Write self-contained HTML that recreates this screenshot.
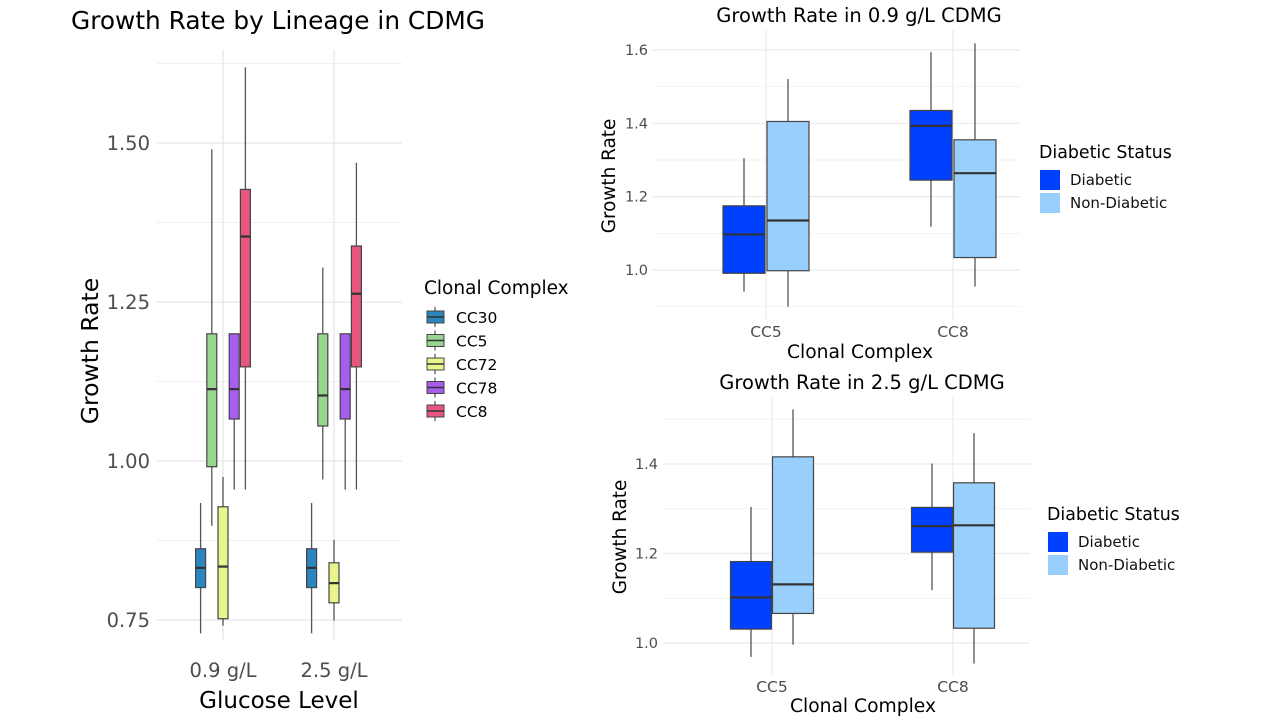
<!DOCTYPE html>
<html><head><meta charset="utf-8">
<style>
html,body{margin:0;padding:0;background:#fff;}
svg{display:block;font-family:"DejaVu Sans","Liberation Sans",sans-serif;}
</style></head>
<body>
<svg id="c" width="1280" height="720" viewBox="0 0 1280 720"></svg>
<script>
// ---------- Left chart data ----------
const glucoseLevels = ["0.9 g/L", "2.5 g/L"];
const lineages = ["CC30", "CC5", "CC72", "CC78", "CC8"];
const lineageColors = ["#2b86c0", "#98d68f", "#e9f58c", "#a95cf0", "#e5577f"];
// [low whisker, q1, median, q3, high whisker] per lineage per glucose level
const lineage09 = [[0.729,0.801,0.832,0.862,0.934],[0.898,0.991,1.113,1.200,1.490],[0.741,0.752,0.834,0.928,0.975],[0.955,1.066,1.113,1.200,1.200],[0.955,1.148,1.353,1.427,1.619]];
const lineage25 = [[0.729,0.801,0.832,0.862,0.934],[0.971,1.055,1.103,1.200,1.304],[0.749,0.777,0.808,0.840,0.876],[0.955,1.066,1.113,1.200,1.200],[0.955,1.148,1.263,1.338,1.469]];
const leftTicks = [0.75, 1.00, 1.25, 1.50];
const leftTickLabels = ["0.75", "1.00", "1.25", "1.50"];
// ---------- Right charts data ----------
const complexes = ["CC5", "CC8"];
const statuses = ["Diabetic", "Non-Diabetic"];
const statusColors = ["#0040ff", "#99cffc"];
const top09Diabetic = [[0.941,0.991,1.097,1.175,1.305],[1.118,1.245,1.393,1.435,1.594]];
const top09NonDiabetic = [[0.900,0.998,1.135,1.405,1.521],[0.955,1.034,1.264,1.355,1.618]];
const bot25Diabetic = [[0.969,1.031,1.102,1.182,1.304],[1.118,1.203,1.261,1.303,1.401]];
const bot25NonDiabetic = [[0.996,1.066,1.131,1.416,1.522],[0.954,1.033,1.263,1.358,1.469]];
const topTicks = [1.0, 1.2, 1.4, 1.6];
const topTickLabels = ["1.0", "1.2", "1.4", "1.6"];
const botTicks = [1.0, 1.2, 1.4];
const botTickLabels = ["1.0", "1.2", "1.4"];

const svg = document.getElementById('c');
const NS = "http://www.w3.org/2000/svg";
function mk(tag, attrs, parent){
  const e = document.createElementNS(NS, tag);
  for (const k in attrs) e.setAttribute(k, attrs[k]);
  (parent||svg).appendChild(e);
  return e;
}
function txt(s, x, y, size, opts, parent){
  const e = mk('text', Object.assign({x:x, y:y, 'font-size':size, fill:'#000'}, opts||{}), parent);
  e.textContent = s;
  return e;
}
function drawBox(g, cx, w, st, yf, fill, name){
  const b = mk('g', {}, g);
  
  
  const l1 = mk('line', {x1:cx, x2:cx, y1:yf(st[4]), y2:yf(st[3]), stroke:'#555', 'stroke-width':1.3}, b);
  
  
  const l2 = mk('line', {x1:cx, x2:cx, y1:yf(st[1]), y2:yf(st[0]), stroke:'#555', 'stroke-width':1.3}, b);
  
  
  const r = mk('rect', {x:cx-w/2, y:yf(st[3]), width:w, height:Math.max(0.5, yf(st[1])-yf(st[3])), fill:fill, stroke:'#444', 'stroke-width':1.2}, b);
  
  
  const m = mk('line', {x1:cx-w/2, x2:cx+w/2, y1:yf(st[2]), y2:yf(st[2]), stroke:'#333', 'stroke-width':2.2}, b);
  
  
}

// ================= LEFT CHART =================
(function(){
  const g = mk('g', {});
  
  
  const yf = v => 461 - (v - 1) * 636;
  const xCat = [223, 334];
  const x0 = 157, x1 = 402;
  [0.875, 1.125, 1.375, 1.625].forEach(v => {
    const l = mk('line', {x1:x0, x2:x1, y1:yf(v), y2:yf(v), stroke:'#f0f0f0', 'stroke-width':1}, g);
    
    
  });
  leftTicks.forEach((v, i) => {
    const l = mk('line', {x1:x0, x2:x1, y1:yf(v), y2:yf(v), stroke:'#e6e6e6', 'stroke-width':1.3}, g);
    
    
    const t = txt(leftTickLabels[i], 150, yf(v) + 7, 19.5, {'text-anchor':'end', fill:'#4d4d4d'}, g);
    
    
  });
  xCat.forEach((x, i) => {
    const l = mk('line', {x1:x, x2:x, y1:50, y2:640, stroke:'#e6e6e6', 'stroke-width':1.3}, g);
    
    
    const t = txt(glucoseLevels[i], x, 677, 19.5, {'text-anchor':'middle', fill:'#4d4d4d'}, g);
    
    
  });
  const groups = [lineage09, lineage25];
  const step = 11.2, bw = 10;
  groups.forEach((grp, gi) => {
    grp.forEach((st, li) => {
      const cx = xCat[gi] + (li - 2) * step;
      drawBox(g, cx, bw, st, yf, lineageColors[li], 'box-' + lineages[li].toLowerCase() + '-' + (gi === 0 ? '0-9' : '2-5'));
    });
  });
  const t1 = txt('Growth Rate by Lineage in CDMG', 71, 29, 24.8, {}, g);
  
  
  const yl = txt('Growth Rate', 0, 0, 23.5, {'text-anchor':'middle', transform:'translate(98,351) rotate(-90)'}, g);
  
  
  const xl = txt('Glucose Level', 279, 708, 23, {'text-anchor':'middle'}, g);
  
  
  const lg = mk('g', {}, g);
  
  
  const lt = txt('Clonal Complex', 424, 294, 18.5, {}, lg);
  
  
  mk('rect', {x:569, y:270, width:40, height:40, fill:'#fff'}, lg);
  lineages.forEach((n, i) => {
    const cy = 317 + i * 23.5;
    const e = mk('g', {}, lg);
    
    
    mk('line', {x1:435, x2:435, y1:cy-10, y2:cy+10, stroke:'#555', 'stroke-width':1.2}, e);
    mk('rect', {x:427, y:cy-6, width:17, height:12, fill:lineageColors[i], stroke:'#444', 'stroke-width':1}, e);
    mk('line', {x1:427, x2:444, y1:cy, y2:cy, stroke:'#333', 'stroke-width':1.5}, e);
    txt(n, 456, cy + 6, 15.5, {}, e);
  });
})();

// ================= RIGHT CHARTS =================
function rightChart(cfg){
  const g = mk('g', {});
  
  
  const yf = v => cfg.y1 - (v - 1) * cfg.scale;
  cfg.minor.forEach(v => {
    const l = mk('line', {x1:cfg.x0, x2:cfg.x1, y1:yf(v), y2:yf(v), stroke:'#f2f2f2', 'stroke-width':1}, g);
    
    
  });
  cfg.ticks.forEach((v, i) => {
    const l = mk('line', {x1:cfg.x0, x2:cfg.x1, y1:yf(v), y2:yf(v), stroke:'#ebebeb', 'stroke-width':1.2}, g);
    
    
    const t = txt(cfg.tickLabels[i], cfg.x0 - 5, yf(v) + 5, 14.5, {'text-anchor':'end', fill:'#4d4d4d'}, g);
    
    
  });
  cfg.xCat.forEach((x, i) => {
    const l = mk('line', {x1:x, x2:x, y1:cfg.top, y2:cfg.bottom, stroke:'#ebebeb', 'stroke-width':1.2}, g);
    
    
    const t = txt(complexes[i], x, cfg.bottom + 17, 15.5, {'text-anchor':'middle', fill:'#4d4d4d'}, g);
    
    
  });
  [cfg.d, cfg.nd].forEach((series, si) => {
    series.forEach((st, ci) => {
      const cx = cfg.xCat[ci] + (si === 0 ? -cfg.off : cfg.off);
      drawBox(g, cx, cfg.bw, st, yf, statusColors[si], 'box-' + complexes[ci].toLowerCase() + '-' + (si === 0 ? 'diabetic' : 'non-diabetic'));
    });
  });
  const t = txt(cfg.title, cfg.titleX, cfg.titleY, 19.5, {'text-anchor':'middle'}, g);
  
  
  const yl = txt('Growth Rate', 0, 0, 18.4, {'text-anchor':'middle', transform:'translate(' + cfg.ylX + ',' + cfg.ylY + ') rotate(-90)'}, g);
  
  
  const xl = txt('Clonal Complex', cfg.xlX, cfg.xlY, 18.7, {'text-anchor':'middle'}, g);
  
  
  const lg = mk('g', {}, g);
  
  
  const lt = txt('Diabetic Status', cfg.lgX, cfg.lgY, 17.4, {}, lg);
  
  
  statuses.forEach((s, i) => {
    const ky = cfg.lgY + 12 + i * 23;
    const e = mk('g', {}, lg);
    
    
    mk('rect', {x:cfg.lgX + 1, y:ky, width:20, height:20, fill:statusColors[i]}, e);
    txt(s, cfg.lgX + 31, ky + 15, 15, {fill:'#111'}, e);
  });
}
rightChart({name:'chart-0-9-gl', title:'Growth Rate in 0.9 g/L CDMG', titleX:859, titleY:22,
  x0:653, x1:1020, top:30, bottom:320, y1:270, scale:366.7, xCat:[766, 953], off:22, bw:42,
  ticks:topTicks, tickLabels:topTickLabels, minor:[0.9, 1.1, 1.3, 1.5],
  d:top09Diabetic, nd:top09NonDiabetic, ylX:615, ylY:176, xlX:860, xlY:358, lgX:1039, lgY:158});
rightChart({name:'chart-2-5-gl', title:'Growth Rate in 2.5 g/L CDMG', titleX:862, titleY:389,
  x0:663, x1:1030, top:397, bottom:675, y1:643, scale:447.5, xCat:[772, 953], off:21, bw:41,
  ticks:botTicks, tickLabels:botTickLabels, minor:[1.1, 1.3, 1.5],
  d:bot25Diabetic, nd:bot25NonDiabetic, ylX:626, ylY:537, xlX:863, xlY:712, lgX:1047, lgY:520});
</script>
</body></html>
